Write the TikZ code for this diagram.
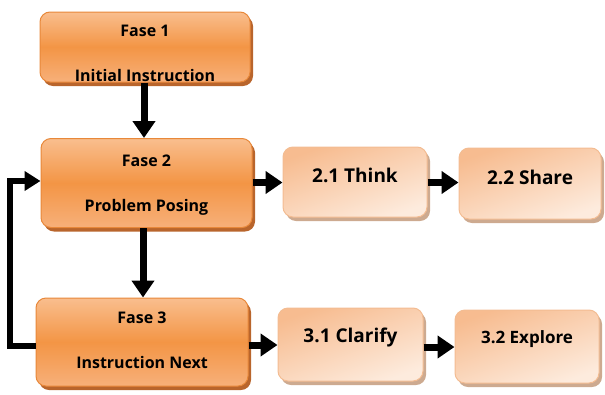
\documentclass[tikz,border=0pt]{standalone}
\usepackage{fontspec}
\setmainfont{Open Sans}
\usetikzlibrary{arrows.meta,shadows,calc}
\definecolor{mainmid}{HTML}{F39545}
\definecolor{maintop}{HTML}{F9BE8E}
\definecolor{mainbot}{HTML}{F7B07A}
\definecolor{mainborder}{HTML}{E8883A}
\definecolor{mainshadow}{HTML}{B9652C}
\definecolor{subtop}{HTML}{F7BC90}
\definecolor{subbot}{HTML}{FDEBDD}
\definecolor{subborder}{HTML}{F3BC92}
\definecolor{subshadow}{HTML}{CDAA90}
\tikzset{
  mainbox/.style={draw=mainborder, line width=1pt, rounded corners=10pt,
    top color=maintop, bottom color=mainbot, middle color=mainmid,
    drop shadow={fill=mainshadow, opacity=1, shadow xshift=3pt, shadow yshift=-4pt}},
  subbox/.style={draw=subborder, line width=1pt, rounded corners=10pt,
    top color=subtop, bottom color=subbot, shading angle=20,
    drop shadow={fill=subshadow, opacity=1, shadow xshift=3pt, shadow yshift=-4pt}},
  maintxt/.style={font=\bfseries\fontsize{16}{18}\selectfont, inner sep=0pt},
  subtxt/.style={font=\bfseries\fontsize{19}{21}\selectfont, inner sep=0pt},
  arr/.style={line width=7pt, -{Triangle[length=17pt,width=22pt]}},
  farr/.style={line width=6pt, -{Triangle[length=16pt,width=19pt]}}
}
\begin{document}
\begin{tikzpicture}[x=1pt,y=-1pt]
\useasboundingbox (0,0) rectangle (605,394);
% main boxes
\node[mainbox, minimum width=210pt, minimum height=70pt] (b1) at (145,47) {};
\node[mainbox, minimum width=211pt, minimum height=89pt] (b2) at (146.5,183) {};
\node[mainbox, minimum width=212pt, minimum height=88pt] (b3) at (142,342) {};
\node[maintxt] (t1a) at (145,31) {Fase 1};
\node[maintxt] (t1b) at (145,75) {Initial Instruction};
\node[maintxt] (t2a) at (146.5,161) {Fase 2};
\node[maintxt] (t2b) at (146.5,207) {Problem Posing};
\node[maintxt] (t3a) at (142,318) {Fase 3};
\node[maintxt] (t3b) at (142,362) {Instruction Next};
% sub boxes
\node[subbox, minimum width=144pt, minimum height=70pt] (s21) at (355,182) {};
\node[subbox, minimum width=142pt, minimum height=71pt] (s22) at (530,183.5) {};
\node[subbox, minimum width=145pt, minimum height=73pt] (s31) at (350.5,344.5) {};
\node[subbox, minimum width=144pt, minimum height=73pt] (s32) at (527,346.5) {};
\node[subtxt] (u21) at (355,175) {2.1 Think};
\node[subtxt] (u22) at (530,177) {2.2 Share};
\node[subtxt] (u31) at (350.5,338) {3.1 Clarify};
\node[subtxt, font=\bfseries\fontsize{17}{19}\selectfont] (u32) at (527,339) {3.2 Explore};
% connectors
\draw[arr] (b1.south -| 144,0) -- (b2.north -| 144,0);
\draw[arr] (b2.south -| 143,0) -- (b3.north -| 143,0);
\draw[arr] (b2.east |- 0,182.5) -- (s21.west |- 0,182.5);
\draw[arr] (s21.east |- 0,182.5) -- (s22.west |- 0,182.5);
\draw[arr] (b3.east |- 0,345) -- (s31.west |- 0,345);
\draw[arr] (s31.east |- 0,347) -- (s32.west |- 0,347);
\coordinate (fb) at (9.5,346);
\draw[farr] (b3.west |- fb) -- (fb) |- (b2.west |- 0,181);
\end{tikzpicture}
\end{document}
